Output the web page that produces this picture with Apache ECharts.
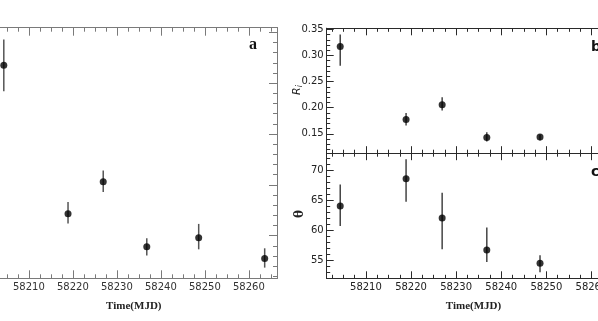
<!DOCTYPE html>
<html><head><meta charset="utf-8">
<script src="https://cdn.jsdelivr.net/npm/echarts@6/dist/echarts.min.js"></script>
<style>html,body{margin:0;padding:0;background:#fff;overflow:hidden}#c{width:598px;height:321px}</style>
</head><body><div id="c"></div><script>
// ---- data ----
const mjd = [58204.3, 58218.9, 58226.9, 58236.8, 58248.6, 58263.6];
// panel a (axis values off-canvas; arbitrary units read from pixel positions)
const aVal = [4.35, 1.43, 2.06, 0.78, 0.96, 0.55];
const aLo  = [3.84, 1.24, 1.86, 0.61, 0.73, 0.37];
const aHi  = [4.86, 1.66, 2.28, 0.95, 1.23, 0.75];
// panel b : R_i
const riVal = [0.317, 0.1775, 0.2055, 0.143, 0.144];
const riLo  = [0.2805, 0.166, 0.1947, 0.1355, 0.1375];
const riHi  = [0.340, 0.190, 0.220, 0.153, 0.149];
// panel c : theta
const thVal = [64.0, 68.55, 62.0, 56.67, 54.45];
const thLo  = [60.67, 64.7, 56.8, 54.67, 52.95];
const thHi  = [67.6, 71.8, 66.2, 60.4, 55.8];
// ticks
const xMajor = [58210, 58220, 58230, 58240, 58250, 58260];
const xLabels = ['58210', '58220', '58230', '58240', '58250', '58260'];
const riMajor = [0.15, 0.20, 0.25, 0.30, 0.35];
const riLabels = ['0.15', '0.20', '0.25', '0.30', '0.35'];
const thMajor = [55, 60, 65, 70];
const thLabels = ['55', '60', '65', '70'];
const aMajor = [1, 2, 3, 4, 5];

// ---- helpers ----
function range(a, b, s) { const r = []; for (let v = a; v <= b + 1e-9; v += s) r.push(+v.toFixed(4)); return r; }
const xMinor = range(58202.5, 58265, 2.5);
const riMinor = range(0.12, 0.35, 0.01);
const thMinor = range(52, 72, 1);
const aMinor = range(0.2, 5.0, 0.2);

const X0 = 58201.3, X1 = 58266.4;
const colA = '#7a7a7a', colB = '#2a2a2a';

function ax(grid, pos, min, max, ticks, len, color, extra) {
  return Object.assign({
    type: 'value', gridIndex: grid, position: pos, min: min, max: max,
    axisLine: { show: true, onZero: false, lineStyle: { color: color, width: 1 } },
    axisTick: { show: true, inside: true, length: len, customValues: ticks, lineStyle: { color: color, width: 1 } },
    axisLabel: { show: false },
    splitLine: { show: false }
  }, extra || {});
}
function lab(vals, texts, color, margin) {
  return { show: true, customValues: vals, margin: margin, hideOverlap: false,
    formatter: function (v) { const i = vals.findIndex(function (u) { return Math.abs(u - v) < 1e-6; }); return i >= 0 ? texts[i] : ''; },
    fontFamily: 'DejaVu Sans', fontSize: 10, color: color };
}
const nameStyle = { fontFamily: 'Liberation Serif', fontWeight: 'bold', fontSize: 11, color: '#222' };

const xAxes = [
  // grid 0 (a)
  ax(0, 'bottom', X0, X1, xMajor, 8, colA, { axisLabel: lab(xMajor, xLabels, '#333', 4), name: 'Time(MJD)', nameLocation: 'middle', nameGap: 22, nameTextStyle: nameStyle }),
  ax(0, 'bottom', X0, X1, xMinor, 4, colA),
  ax(0, 'top', X0, X1, xMajor, 8, colA),
  ax(0, 'top', X0, X1, xMinor, 4, colA),
  // grid 1 (b)
  ax(1, 'bottom', X0, X1, xMajor, 7, colB),
  ax(1, 'bottom', X0, X1, xMinor, 3.5, colB),
  ax(1, 'top', X0, X1, xMajor, 7, colB),
  ax(1, 'top', X0, X1, xMinor, 3.5, colB),
  // grid 2 (c)
  ax(2, 'bottom', X0, X1, xMajor, 7, colB, { axisLabel: lab(xMajor, xLabels, '#222', 4), name: 'Time(MJD)', nameLocation: 'middle', nameGap: 22, nameTextStyle: nameStyle }),
  ax(2, 'bottom', X0, X1, xMinor, 3.5, colB),
  ax(2, 'top', X0, X1, xMajor, 7, colB),
  ax(2, 'top', X0, X1, xMinor, 3.5, colB)
];
const yAxes = [
  ax(0, 'right', 0.16, 5.09, aMajor, 8, colA),
  ax(0, 'right', 0.16, 5.09, aMinor, 4, colA),
  ax(1, 'left', 0.113, 0.352, riMajor, 7, colB, { axisLabel: lab(riMajor, riLabels, '#222', 3) }),
  ax(1, 'left', 0.113, 0.352, riMinor, 3.5, colB),
  ax(2, 'left', 51.95, 72.8, thMajor, 7, colB, { axisLabel: lab(thMajor, thLabels, '#222', 3) }),
  ax(2, 'left', 51.95, 72.8, thMinor, 3.5, colB),
  ax(0, 'left', 0.16, 5.09, [], 0, colA)
];

function errSeries(xi, yi, xs, lo, hi, color) {
  return {
    type: 'custom', xAxisIndex: xi, yAxisIndex: yi, z: 2,
    data: xs.slice(0, lo.length).map(function (x, i) { return [x, lo[i], hi[i]]; }),
    encode: { x: 0, y: [1, 2] },
    renderItem: function (params, api) {
      const p1 = api.coord([api.value(0), api.value(1)]);
      const p2 = api.coord([api.value(0), api.value(2)]);
      return { type: 'line', shape: { x1: p1[0], y1: p1[1], x2: p2[0], y2: p2[1] }, style: { stroke: color, lineWidth: 1.5 } };
    }
  };
}
function ptSeries(xi, yi, xs, ys) {
  return { type: 'scatter', xAxisIndex: xi, yAxisIndex: yi, z: 3, symbol: 'circle', symbolSize: 7,
    itemStyle: { color: '#000' }, data: ys.map(function (y, i) { return [xs[i], y]; }) };
}

const option = {
  animation: false,
  backgroundColor: '#fff',
  grid: [
    { left: -9.4, top: 27.7, width: 286.4, height: 250.6, outerBoundsMode: 'none', containLabel: false },
    { left: 326.7, top: 28.3, width: 293.6, height: 124.9, outerBoundsMode: 'none', containLabel: false },
    { left: 326.7, top: 153.2, width: 293.6, height: 125.1, outerBoundsMode: 'none', containLabel: false }
  ],
  xAxis: xAxes,
  yAxis: yAxes,
  series: [
    errSeries(0, 0, mjd, aLo, aHi, '#555'),
    ptSeries(0, 0, mjd, aVal),
    errSeries(4, 2, mjd, riLo, riHi, '#444'),
    ptSeries(4, 2, mjd, riVal),
    errSeries(8, 4, mjd, thLo, thHi, '#444'),
    ptSeries(8, 4, mjd, thVal)
  ],
  graphic: [
    { type: 'text', left: 249, top: 37, style: { text: 'a', font: 'bold 16px "Liberation Serif"', fill: '#111' } },
    { type: 'text', left: 591, top: 40, style: { text: 'b', font: 'bold 14px "DejaVu Sans"', fill: '#111' } },
    { type: 'text', left: 591, top: 165, style: { text: 'c', font: 'bold 14px "DejaVu Sans"', fill: '#111' } },
    { type: 'text', x: 297, y: 90, rotation: Math.PI / 2,
      style: { text: '{r|R}{s|i}', align: 'center', verticalAlign: 'middle',
        rich: { r: { fontFamily: 'DejaVu Sans', fontStyle: 'italic', fontSize: 11, fill: '#222' },
                s: { fontFamily: 'DejaVu Sans', fontStyle: 'italic', fontSize: 8, fill: '#222', verticalAlign: 'bottom', padding: [5, 0, 0, 0] } } } },
    { type: 'text', x: 300, y: 214, rotation: Math.PI / 2,
      style: { text: 'θ', align: 'center', verticalAlign: 'middle', font: 'bold 12px "DejaVu Serif"', fill: '#222' } }
  ]
};
const chart = echarts.init(document.getElementById('c'));
chart.setOption(option);
</script></body></html>
